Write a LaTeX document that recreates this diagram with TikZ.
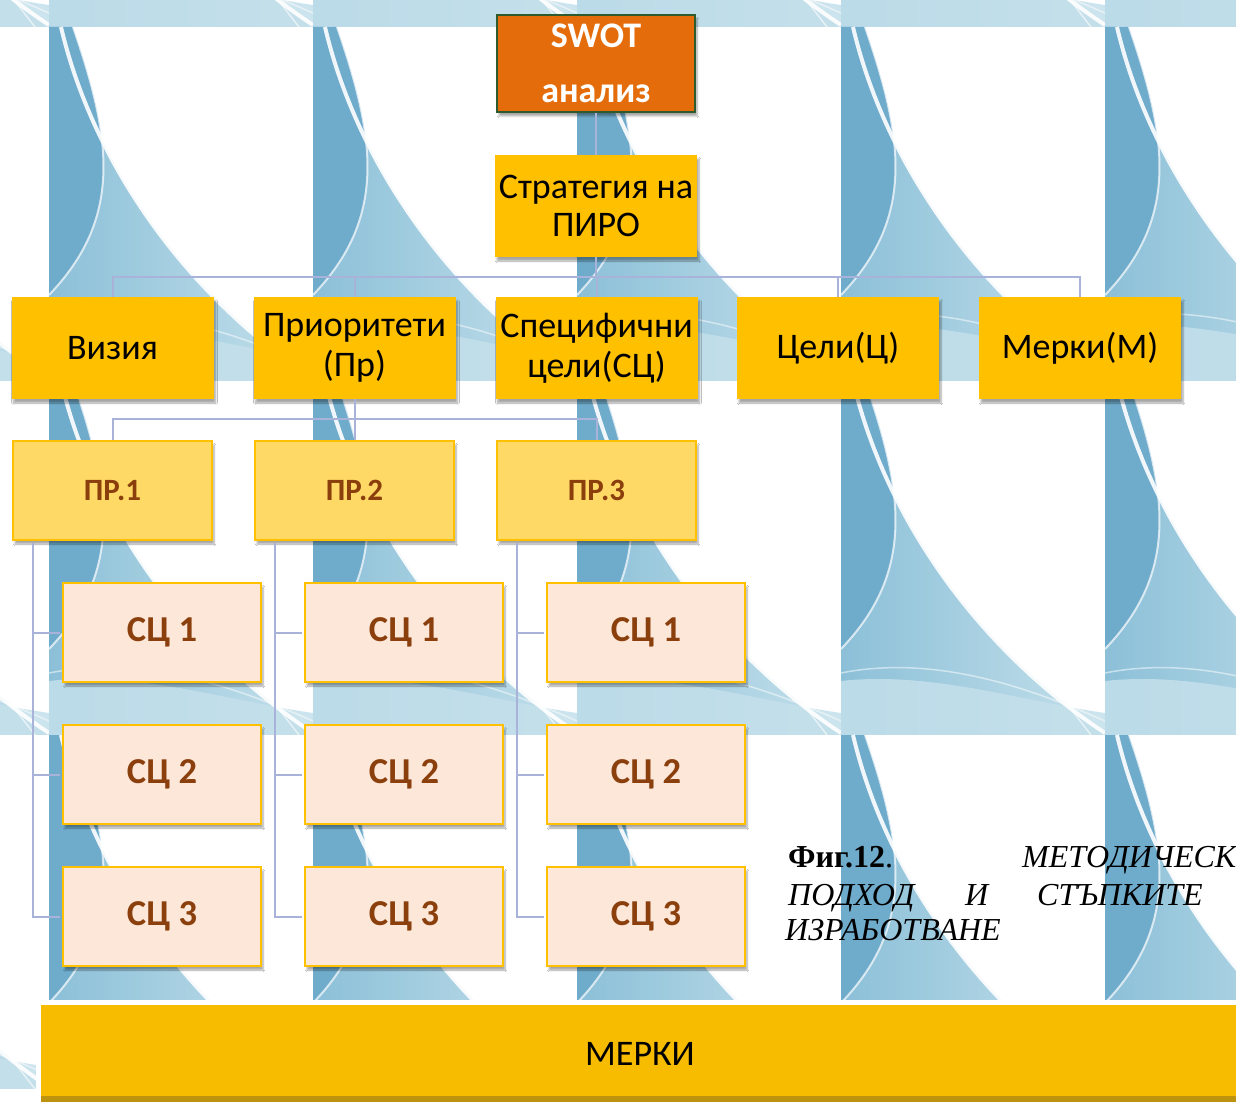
\documentclass[tikz,border=0pt]{standalone}
\usepackage{fontspec}
\setmainfont{Carlito}
\newfontfamily\capfont{Liberation Serif}
\usetikzlibrary{shadows.blur}
\definecolor{tdark}{HTML}{6FABCB}
\definecolor{tmid}{HTML}{8CC0D8}
\definecolor{tlight}{HTML}{C4E0EB}
\definecolor{connc}{HTML}{A9B3D9}
\definecolor{gold}{HTML}{FFC000}
\definecolor{swotc}{HTML}{E46C0A}
\definecolor{swotb}{HTML}{2E5B2E}
\definecolor{prfill}{HTML}{FFD966}
\definecolor{peach}{HTML}{FCE7D9}
\definecolor{brownt}{HTML}{8A3F0C}
\definecolor{barc}{HTML}{F7BB00}
\definecolor{barbot}{HTML}{B89010}
\tikzset{
  conn/.style={draw=connc, line width=2pt},
  softshadow/.style={blur shadow={shadow xshift=2pt, shadow yshift=-4pt, shadow blur steps=6, shadow opacity=35}},
  ybox/.style={rectangle, fill=gold, minimum width=202pt, minimum height=102pt, inner sep=0pt,
    align=center, font=\fontsize{36}{40}\selectfont, softshadow},
  prbox/.style={rectangle, fill=prfill, draw=gold, line width=2.5pt, minimum width=199pt,
    minimum height=99pt, inner sep=0pt, text=brownt, font=\bfseries\fontsize{31}{34}\selectfont, softshadow},
  scbox/.style={rectangle, fill=peach, draw=gold, line width=2.5pt, minimum width=198pt,
    minimum height=99pt, inner sep=0pt, text=brownt, font=\bfseries\fontsize{36.5}{40}\selectfont, softshadow},
  captxt/.style={inner sep=0pt, anchor=base west, font=\capfont\fontsize{32}{36}\selectfont},
}
\newcommand{\bgtile}[2]{%
  \begin{scope}[shift={(#1,#2)}]
    \fill[white] (0,0) rectangle (264,354);
    \shade[left color=tmid, right color=tlight] (0,0) -- (12,0) .. controls (45,140) and (140,270) .. (264,350) -- (264,354) -- (0,354) -- cycle;
    \fill[tlight, opacity=0.85] (0,300) .. controls (90,290) and (180,320) .. (264,332) -- (264,354) -- (0,354) -- cycle;
    \fill[tdark] (0,0) -- (24,0) .. controls (62,110) and (75,190) .. (0,268) -- cycle;
    \draw[white, line width=4pt, opacity=0.9] (12,0) .. controls (45,140) and (140,270) .. (264,352);
    \draw[white, line width=2pt, opacity=0.7] (24,0) .. controls (62,110) and (75,190) .. (0,268);
    \draw[white, line width=1.5pt, opacity=0.6] (30,0) .. controls (90,160) and (170,250) .. (250,354);
    \draw[white, line width=1.5pt, opacity=0.5] (0,292) .. controls (100,272) and (200,312) .. (264,340);
  \end{scope}}
\begin{document}
\begin{tikzpicture}[x=1pt,y=-1pt]
\useasboundingbox (0,0) rectangle (1236,1102);
% background
\begin{scope}
  \clip (0,0) rectangle (1236,1102);
  \foreach \tx in {-215,49,313,577,841,1105} {
    \foreach \ty in {-327,27,381,735,1089} {
      \bgtile{\tx}{\ty}
    }
  }
\end{scope}

% boxes
\node[rectangle, fill=swotc, draw=swotb, line width=2pt, minimum width=198pt, minimum height=97pt,
  inner sep=0pt, align=center, text=white, font=\bfseries\fontsize{36}{55}\selectfont, softshadow]
  (swot) at (596,63.5) {SWOT\\анализ};
\node[ybox, font=\fontsize{36}{38}\selectfont] (strat) at (596,206) {Стратегия на\\ПИРО};

\node[ybox] (viz)  at (112.5,348) {Визия};
\node[ybox] (pri)  at (354.5,348) {Приоритети\\(Пр)};
\node[ybox] (spec) at (596.5,348) {Специфични\\цели(СЦ)};
\node[ybox] (celi) at (838,348)   {Цели(Ц)};
\node[ybox] (merk) at (1080,348)  {Мерки(М)};

\node[prbox] (pr1) at (112.5,490.5) {ПР.1};
\node[prbox] (pr2) at (354.5,490.5) {ПР.2};
\node[prbox] (pr3) at (596.5,490.5) {ПР.3};

\node[scbox] (sa1) at (162,632.5) {СЦ 1};
\node[scbox] (sa2) at (162,774.5) {СЦ 2};
\node[scbox] (sa3) at (162,916.5) {СЦ 3};
\node[scbox] (sb1) at (404,632.5) {СЦ 1};
\node[scbox] (sb2) at (404,774.5) {СЦ 2};
\node[scbox] (sb3) at (404,916.5) {СЦ 3};
\node[scbox] (sc1) at (646,632.5) {СЦ 1};
\node[scbox] (sc2) at (646,774.5) {СЦ 2};
\node[scbox] (sc3) at (646,916.5) {СЦ 3};

% connectors
\coordinate (bus1) at (596,277);
\coordinate (bus2) at (354.5,419);
\draw[conn] (swot.south) -- (strat.north);
\draw[conn] (strat.south) -- (bus1);
\foreach \n in {viz,pri,spec,celi,merk} { \draw[conn] (bus1) -| (\n.north); }
\draw[conn] (pri.south) -- (bus2);
\foreach \n in {pr1,pr2,pr3} { \draw[conn] (bus2) -| (\n.north); }
\foreach \p/\c in {pr1/sa, pr2/sb, pr3/sc} {
  \foreach \k in {1,2,3} {
    \draw[conn] ([xshift=21pt,yshift=-1.3pt]\p.south west) |- ([xshift=-1.3pt]\c\k.west);
  }
}

\node[rectangle, draw=white, line width=5pt, fill=barc, minimum width=1204pt, minimum height=104pt,
  inner sep=0pt, font=\fontsize{36}{40}\selectfont,
  path picture={\shade[top color=barc, bottom color=barbot]
    ([yshift=10pt]path picture bounding box.south west) rectangle (path picture bounding box.south east);}]
  (bar) at (640,1054) {МЕРКИ};

% caption
\node[captxt] (cap1a) at (788,867) {\textbf{Фиг.12}.};
\node[captxt] (cap1b) at (1022,867) {\textit{МЕТОДИЧЕСК}};
\node[captxt] (cap2a) at (788,905) {\textit{ПОДХОД}};
\node[captxt] (cap2b) at (965,905) {\textit{И}};
\node[captxt] (cap2c) at (1037,905) {\textit{СТЪПКИТЕ}};
\node[captxt] (cap3)  at (785,940) {\textit{ИЗРАБОТВАНЕ}};
\end{tikzpicture}
\end{document}
